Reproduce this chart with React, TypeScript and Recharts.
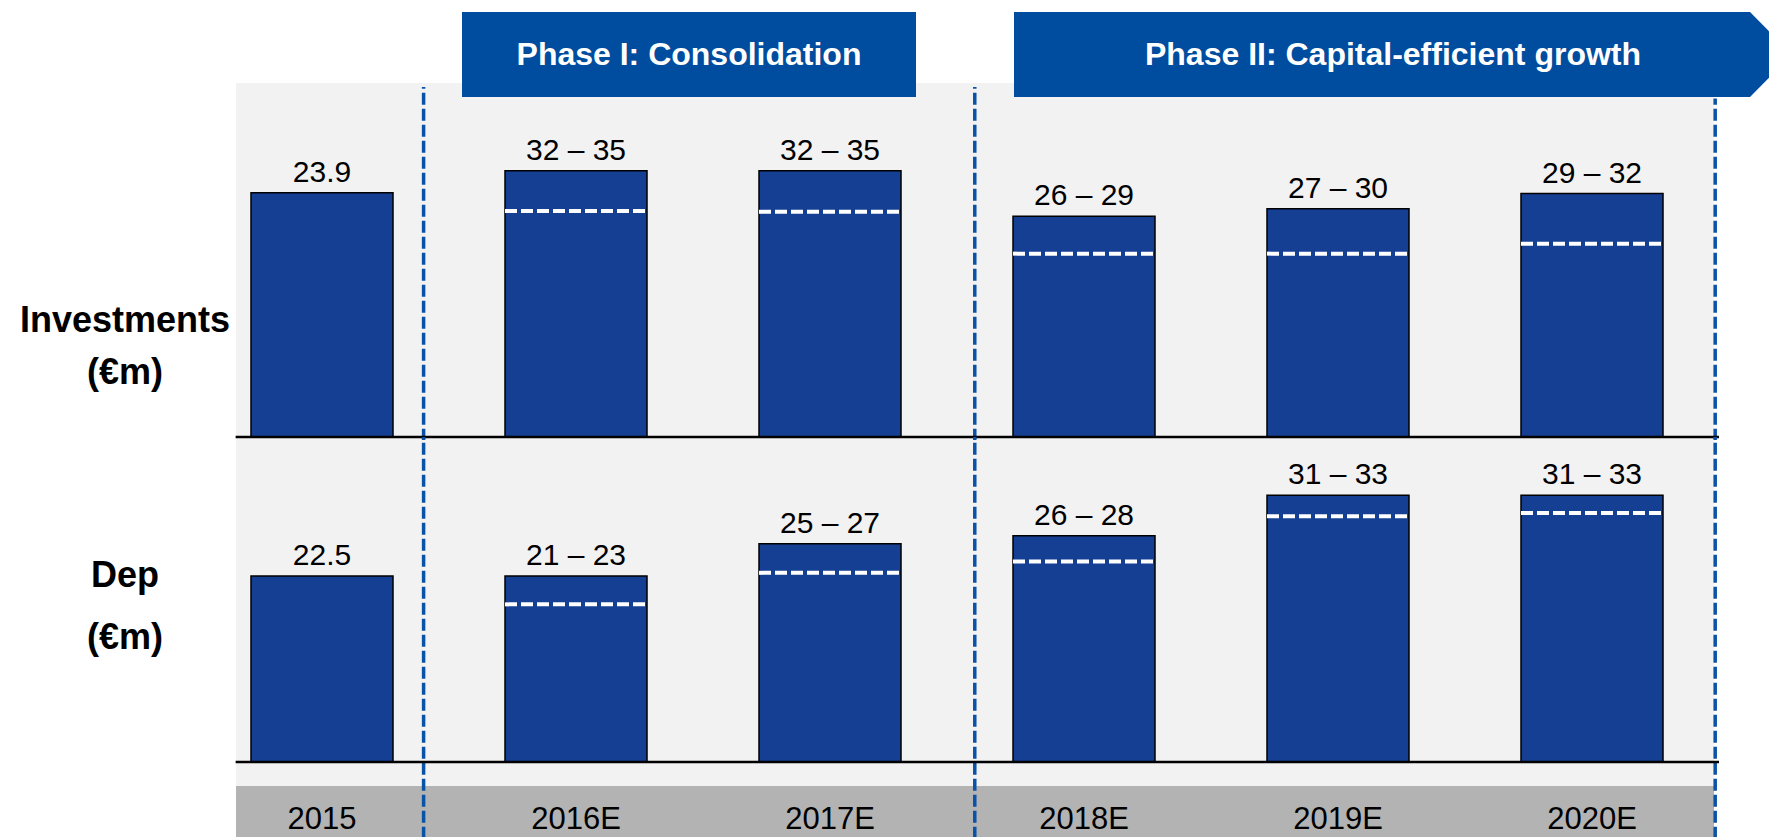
import React from "react";
import {
  ComposedChart, Bar, Scatter, XAxis, YAxis, LabelList, ReferenceLine,
} from "recharts";

const years = ["2015", "2016E", "2017E", "2018E", "2019E", "2020E"];

// bar heights as drawn in the picture (the slide is not fully to scale)
const invLabels = ["23.9", "32 – 35", "32 – 35", "26 – 29", "27 – 30", "29 – 32"];
const invBars = [32.1, 35, 35, 29, 30, 32];
const invMarks = [null, 29.7, 29.6, 24.1, 24.1, 25.4];

const depLabels = ["22.5", "21 – 23", "25 – 27", "26 – 28", "31 – 33", "31 – 33"];
const depBars = [23, 23, 27, 28, 33, 33];
const depMarks = [null, 19.5, 23.4, 24.8, 30.4, 30.8];

// phase borders, in category units (0 = left edge of the 2015 slot)
const phaseSplits = [0.9, 3.07];
const phaseEnd = 5.985;
const panelStart = 0.16;

const W = 1769;
const H = 837;
const FONT = "'Liberation Sans', Arial, Helvetica, sans-serif";
const BAR = "#143f93";
const BANNER = "#004c9e";
const SPLIT = "#0a52a6";
const HALF_BAR = 71;

const invData = years.map((year, i) => ({ year, pos: i + 0.5, value: invBars[i], mark: invMarks[i], label: invLabels[i] }));
const depData = years.map((year, i) => ({ year, pos: i + 0.5, value: depBars[i], mark: depMarks[i], label: depLabels[i] }));

function MarkLine(props: any) {
  const { cx, cy } = props;
  if (cx == null || cy == null || !isFinite(cx) || !isFinite(cy)) return <g />;
  return (
    <line x1={cx - HALF_BAR} x2={cx + HALF_BAR} y1={cy} y2={cy}
      stroke="#fff" strokeWidth={4} strokeDasharray="12 4" />
  );
}

function Panel({ data, height, top, margin, max, splitTop, splitBottom, withYears }: any) {
  return (
    <div style={{ position: "absolute", left: 0, top, width: W, height }}>
      <ComposedChart width={W} height={height} data={data} margin={margin}>
        {withYears ? (
          <XAxis dataKey="year" axisLine={false} tickLine={false} tickSize={0} tickMargin={45}
            height={75} interval={0} tick={{ fill: "#000", fontSize: 31, fontFamily: FONT }} />
        ) : (
          <XAxis dataKey="year" hide />
        )}
        <XAxis xAxisId="pos" dataKey="pos" type="number" domain={[0, 6]} allowDataOverflow hide />
        <YAxis domain={[0, max]} allowDataOverflow hide />
        {phaseSplits.map((x) => (
          <ReferenceLine key={x} xAxisId="pos" ifOverflow="visible"
            segment={[{ x, y: splitBottom }, { x, y: max }]}
            stroke={SPLIT} strokeWidth={3.5} strokeDasharray="12 4" />
        ))}
        <ReferenceLine xAxisId="pos" ifOverflow="visible"
          segment={[{ x: phaseEnd, y: splitBottom }, { x: phaseEnd, y: splitTop }]}
          stroke={SPLIT} strokeWidth={3.5} strokeDasharray="12 4" />
        <Bar dataKey="value" fill={BAR} stroke="#000" strokeWidth={1.5} barSize={142} isAnimationActive={false}>
          <LabelList dataKey="label" position="top" offset={11} fill="#000" fontSize={30} fontFamily={FONT} />
        </Bar>
        <Scatter dataKey="mark" shape={MarkLine} isAnimationActive={false} />
        <ReferenceLine xAxisId="pos" ifOverflow="visible"
          segment={[{ x: panelStart, y: 0 }, { x: 6, y: 0 }]}
          stroke="#000" strokeWidth={2.5} />
      </ComposedChart>
    </div>
  );
}

const sideLabel: React.CSSProperties = {
  position: "absolute", left: 0, width: 250, textAlign: "center",
  fontWeight: 700, fontSize: 36, height: 44, lineHeight: "44px", color: "#000",
};

export default function App() {
  return (
    <div style={{ position: "absolute", left: 0, top: 0, width: W, height: H, overflow: "hidden", background: "#fff", fontFamily: FONT }}>
      <div style={{ position: "absolute", left: 236, top: 83, width: 1478, height: 703, background: "#f2f2f2" }} />
      <div style={{ position: "absolute", left: 236, top: 786, width: 1478, height: 51, background: "#b3b3b3" }} />

      <div style={{
        position: "absolute", left: 462, top: 12, width: 454, height: 85, background: BANNER,
        color: "#fff", fontWeight: 700, fontSize: 32, display: "flex", alignItems: "center", justifyContent: "center",
      }}>Phase I: Consolidation</div>
      <div style={{
        position: "absolute", left: 1014, top: 12, width: 778, height: 85, background: BANNER,
        clipPath: "polygon(0 0, 736px 0, 778px 50%, 736px 100%, 0 100%)", boxSizing: "border-box", paddingRight: 20,
        color: "#fff", fontWeight: 700, fontSize: 32, display: "flex", alignItems: "center", justifyContent: "center",
      }}>Phase II: Capital-efficient growth</div>

      <div style={{ ...sideLabel, top: 298 }}>Investments</div>
      <div style={{ ...sideLabel, top: 350 }}>(€m)</div>
      <div style={{ ...sideLabel, top: 553 }}>Dep</div>
      <div style={{ ...sideLabel, top: 615 }}>(€m)</div>

      <Panel data={invData} top={0} height={440} max={46} splitTop={44.5} splitBottom={-0.5}
        margin={{ top: 87, right: 50, bottom: 3, left: 195 }} />
      <Panel data={depData} top={437} height={400} max={40.2} splitTop={40.2} splitBottom={-9.5}
        margin={{ top: 0, right: 50, bottom: 0, left: 195 }} withYears />
    </div>
  );
}
